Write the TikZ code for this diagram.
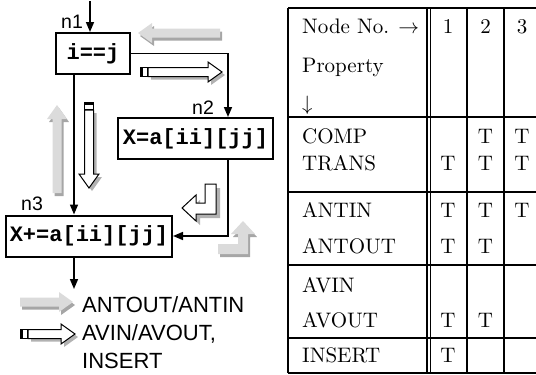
\documentclass[tikz,border=0pt]{standalone}
\usepackage{fontspec}
\newfontfamily\lsans{Liberation Sans}
\newfontfamily\lmono{Liberation Mono}
\newfontfamily\lmten{lmroman10-regular}[Extension=.otf]
\usetikzlibrary{arrows.meta}
\tikzset{
  box/.style={draw, line width=2pt, minimum height=41pt, inner sep=0pt,
    font=\lmono\bfseries\fontsize{22}{24}\selectfont},
  conn/.style={line width=1.6pt, -{Triangle[length=10pt,width=8pt]}},
  lab/.style={font=\lsans\fontsize{19.5}{20}\selectfont, anchor=base west, inner sep=0pt},
  leg/.style={font=\lsans\fontsize{22}{22}\selectfont, anchor=base west, inner sep=0pt},
  tab/.style={font=\lmten\fontsize{21}{24}\selectfont, anchor=base west, inner sep=0pt},
  tabc/.style={font=\lmten\fontsize{21}{24}\selectfont, anchor=base, inner sep=0pt},
  tline/.style={line width=1.1pt},
  grayshadow/.style={fill=gray!70},
  graybody/.style={fill=gray!28},
  hollowshadow/.style={fill=gray!60},
}
\newcommand\arrshape[1]{(0,-4.5) -- (#1-14,-4.5) -- (#1-14,-10) -- (#1,0) -- (#1-14,10) -- (#1-14,4.5) -- (0,4.5) -- cycle}
\newcommand\hollowarr[4]{%
  \begin{scope}[shift={(#1+3,#2+3)},rotate=#3]
    \fill[hollowshadow] \arrshape{#4};
  \end{scope}
  \begin{scope}[shift={(#1,#2)},rotate=#3]
    \filldraw[fill=white,draw=black,line width=1pt] \arrshape{#4};
    \filldraw[fill=white,draw=black,line width=0.8pt] (-8,-4.5) rectangle (-1,4.5);
    \fill[black] (-8,-4.5) rectangle (-5,4.5);
  \end{scope}}
\newcommand\grayarr[4]{%
  \begin{scope}[shift={(#1+2,#2+3)},rotate=#3]
    \fill[grayshadow] \arrshape{#4};
  \end{scope}
  \begin{scope}[shift={(#1,#2)},rotate=#3]
    \fill[graybody] \arrshape{#4};
  \end{scope}}
\begin{document}
\begin{tikzpicture}[x=1pt,y=-1pt]
\useasboundingbox (0,0) rectangle (536,375);

% flow graph nodes
\node[box, minimum width=74pt] (n1) at (93,53.5) {i==j};
\node[box, minimum width=155pt] (n2) at (195.5,138.5) {X=a[ii][jj]};
\node[box, minimum width=166pt] (n3) at (89,236) {X+=a[ii][jj]};

\node[lab] (l1) at (61,28) {n1};
\node[lab] (l2) at (192,114) {n2};
\node[lab] (l3) at (21,210) {n3};

\coordinate (in1) at (90,1);
\coordinate (cl) at (74,0);
\coordinate (cr) at (228,0);
\coordinate (out) at (74,289);

\draw[conn] (in1) -- (in1 |- n1.north);
\draw[conn] (n1.east) -| (cr |- n2.north);
\draw[conn] (n1.south -| cl) -- (n3.north -| cl);
\draw[conn] (n2.south -| cr) |- (n3.east);
\draw[conn] (n3.south -| cl) -- (out);

% block arrows
\grayarr{220}{33}{180}{82}
\hollowarr{148}{72}{0}{74}
\hollowarr{89}{110}{-90}{78}
\grayarr{57}{193}{90}{88}

% hollow L arrow
\fill[hollowshadow] (209,188) -- (220,188) -- (220,218) -- (200,218) -- (200,225) -- (186,212) -- (200,200) -- (200,207) -- (209,207) -- cycle;
\filldraw[fill=white,draw=black,line width=1pt] (205,184) -- (216,184) -- (216,214) -- (196,214) -- (196,221) -- (182,208) -- (196,195) -- (196,203) -- (205,203) -- cycle;

% gray L arrow
\fill[grayshadow] (220,247) -- (240,247) -- (240,237) -- (233,237) -- (245,224) -- (257,237) -- (250,237) -- (250,257) -- (220,257) -- cycle;
\fill[graybody] (218,244) -- (238,244) -- (238,234) -- (231,234) -- (243,221) -- (255,234) -- (248,234) -- (248,254) -- (218,254) -- cycle;

% legend
\grayarr{20}{302}{0}{53}
\node[leg] (g1) at (82,312) {ANTOUT/ANTIN};
\hollowarr{28}{334}{0}{47}
\node[leg] (g2) at (82,340) {AVIN/AVOUT,};
\node[leg] (g3) at (82,368) {INSERT};

% table lines
\draw[tline] (288,8) -- (540,8);
\draw[tline] (288,8) -- (288,373);
\draw[tline] (288,373) -- (540,373);
\draw[tline] (427,8) -- (427,373);
\draw[tline] (430.5,8) -- (430.5,373);
\draw[tline] (467,8) -- (467,373);
\draw[tline] (504,8) -- (504,373);
\draw[line width=1.5pt] (288,117) -- (540,117);
\draw[tline] (288,192) -- (540,192);
\draw[tline] (288,265) -- (540,265);
\draw[tline] (288,338) -- (540,338);

% table text
\node[tab] (h1) at (302,33) {Node No. $\rightarrow$};
\node[tab] (h2) at (302,72) {Property};
\node[tab] (h3) at (302,110) {$\downarrow$};
\node[tabc] (c1) at (448,33) {1};
\node[tabc] (c2) at (485.5,33) {2};
\node[tabc] (c3) at (522,33) {3};

\node[tab] (r1) at (302,143) {COMP};
\node[tabc] (r1b) at (485.5,143) {T};
\node[tabc] (r1c) at (522,143) {T};

\node[tab] (r2) at (302,170) {TRANS};
\node[tabc] (r2a) at (448,170) {T};
\node[tabc] (r2b) at (485.5,170) {T};
\node[tabc] (r2c) at (522,170) {T};

\node[tab] (r3) at (302,217) {ANTIN};
\node[tabc] (r3a) at (448,217) {T};
\node[tabc] (r3b) at (485.5,217) {T};
\node[tabc] (r3c) at (522,217) {T};

\node[tab] (r4) at (302,253) {ANTOUT};
\node[tabc] (r4a) at (448,253) {T};
\node[tabc] (r4b) at (485.5,253) {T};

\node[tab] (r5) at (302,292) {AVIN};

\node[tab] (r6) at (302,327) {AVOUT};
\node[tabc] (r6a) at (448,327) {T};
\node[tabc] (r6b) at (485.5,327) {T};

\node[tab] (r7) at (302,362) {INSERT};
\node[tabc] (r7a) at (448,362) {T};
\end{tikzpicture}
\end{document}
